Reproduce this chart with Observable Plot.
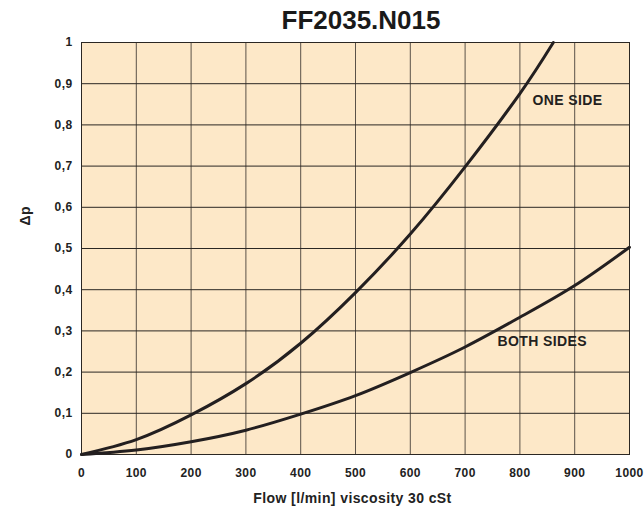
<!DOCTYPE html>
<html><head><meta charset="utf-8">
<script src="https://cdn.jsdelivr.net/npm/d3@7"></script>
<script src="https://cdn.jsdelivr.net/npm/@observablehq/plot@0.6"></script>
<style>
body{margin:0;background:#fff;font-family:"Liberation Sans",Arial,Helvetica,sans-serif;}
#title{height:36px;width:644px;text-align:center;font-weight:bold;font-size:26px;line-height:40px;padding-left:78px;box-sizing:border-box;color:#1a1a1a;overflow:visible;white-space:nowrap}
#chart svg text{letter-spacing:0.4px}
</style></head><body>
<div id="title">FF2035.N015</div>
<div id="chart"></div>
<script>
const titleText = "FF2035.N015";
const xLabel = "Flow [l/min] viscosity 30 cSt";
const yLabel = "Δp";

const flowOne = [0, 100, 200, 300, 400, 500, 600, 700, 800, 861];
const dpOne   = [0, 0.036, 0.096, 0.172, 0.27, 0.393, 0.535, 0.698, 0.876, 1.0];

const flowBoth = [0, 100, 200, 300, 400, 500, 600, 700, 800, 900, 1000];
const dpBoth   = [0, 0.011, 0.031, 0.059, 0.098, 0.143, 0.199, 0.261, 0.333, 0.41, 0.503];

const xTicks = [0, 100, 200, 300, 400, 500, 600, 700, 800, 900, 1000];
const yTicks = [0, 0.1, 0.2, 0.3, 0.4, 0.5, 0.6, 0.7, 0.8, 0.9, 1];

const seriesNames = ["ONE SIDE", "BOTH SIDES"];
const labelFlow = [823, 759];
const labelDp = [0.859, 0.274];

const one = flowOne.map((f, i) => ({flow: f, dp: dpOne[i]}));
const both = flowBoth.map((f, i) => ({flow: f, dp: dpBoth[i]}));
const labels = seriesNames.map((s, i) => ({name: s, flow: labelFlow[i], dp: labelDp[i]}));

const fmtY = d => (d === 0 || d === 1) ? String(d) : d.toFixed(1).replace(".", ",");
const fmtX = d => String(d);

const chart = Plot.plot({
  width: 644,
  height: 479,
  marginTop: 6,
  marginBottom: 61,
  marginLeft: 81,
  marginRight: 15,
  style: {fontFamily: '"Liberation Sans", Arial, sans-serif', fontSize: "12px", fontWeight: "bold", color: "#222", background: "#fff"},
  x: {domain: [0, 1000]},
  y: {domain: [0, 1]},
  marks: [
    Plot.frame({fill: "#fde8c8", stroke: null}),
    Plot.gridX(xTicks, {stroke: "#5b5249", strokeOpacity: 1, strokeWidth: 1}),
    Plot.gridY(yTicks, {stroke: "#2b2723", strokeOpacity: 1, strokeWidth: 1}),
    Plot.frame({stroke: "#2b2723", strokeWidth: 1}),
    Plot.line(one, {x: "flow", y: "dp", curve: "natural", stroke: "#231f20", strokeWidth: 3}),
    Plot.line(both, {x: "flow", y: "dp", curve: "natural", stroke: "#231f20", strokeWidth: 3}),
    Plot.text(labels, {x: "flow", y: "dp", text: "name", textAnchor: "start", fontSize: 14, fontWeight: "bold", fill: "#231f20"}),
    Plot.axisX(xTicks, {tickSize: 0, tickPadding: 14, label: null, tickFormat: fmtX, fill: "#222"}),
    Plot.axisY(yTicks, {tickSize: 0, tickPadding: 9, label: null, tickFormat: fmtY, fill: "#222"}),
    Plot.text([xLabel], {frameAnchor: "bottom", dy: 48, dx: -3, fontSize: 14, fontWeight: "bold", fill: "#222"}),
    Plot.text([yLabel], {frameAnchor: "left", dx: -56, dy: -23, rotate: -90, fontSize: 14, fontWeight: "bold", fill: "#222"})
  ]
});
document.getElementById("chart").appendChild(chart);
</script>
</body></html>
